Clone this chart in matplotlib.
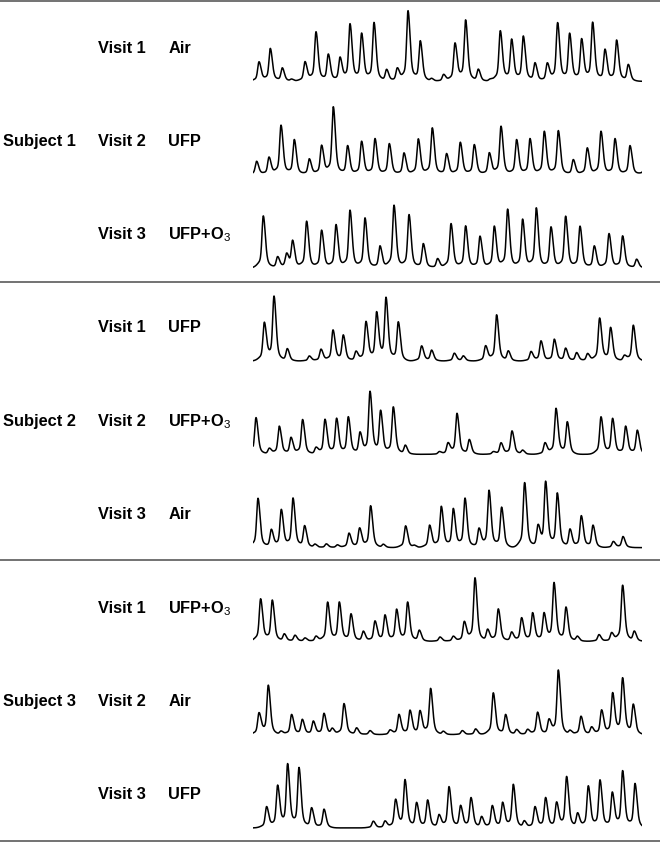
import numpy as np
import matplotlib
matplotlib.use("Agg")
import matplotlib.pyplot as plt

plt.rcParams['font.family'] = ['Liberation Sans', 'DejaVu Sans']
plt.rcParams['mathtext.fontset'] = 'custom'
plt.rcParams['mathtext.rm'] = 'Liberation Sans'
plt.rcParams['mathtext.bf'] = 'Liberation Sans:bold'

# ---------------- data (peak times in trace units 0-389, peak heights in amplitude units) -------------
subjects = ["Subject 1", "Subject 2", "Subject 3"]
visits = ["Visit 1", "Visit 2", "Visit 3"]
conditions = [["Air", "UFP", r"UFP+O$_{\mathrm{3}}$"],
              ["UFP", r"UFP+O$_{\mathrm{3}}$", "Air"],
              [r"UFP+O$_{\mathrm{3}}$", "Air", "UFP"]]

s1v1_t = [5.7, 17, 29, 38.3, 51.7, 62.7, 75, 86.7, 96.7, 108.3, 120.7, 133.3, 144, 154.7, 167, 178.3, 190.3,
          201.7, 212.3, 225, 236.7, 247, 258.3, 270, 281.7, 294, 304.3, 316.3, 328.3, 339.3, 351.7, 363.3, 375]
s1v1_h = [19.3, 32.7, 13.3, 2, 19.3, 49.3, 27, 23.3, 57, 47.7, 58.7, 11.7, 12.7, 70.3, 40.3, 2.7, 6.7,
          37.7, 61, 12, 1.7, 50.3, 41.7, 45, 18.3, 17.7, 58.3, 47.7, 42, 58.7, 31.7, 41, 16.7]

s1v2_t = [3.3, 15.7, 27.7, 41, 56, 68.3, 80, 94.3, 108.3, 121.7, 136, 150.7, 165, 179, 193.3, 207, 221,
          236, 247.7, 263.3, 276.7, 291, 305, 320, 334, 347.7, 361.7, 376.7, 392]
s1v2_h = [13.3, 17.3, 49.3, 35, 15.7, 29, 67.7, 29, 33.3, 36, 31, 21.7, 35.7, 46.7, 21, 32.3, 30,
          21.7, 48.3, 35, 36, 43.3, 44, 15, 26.7, 43.3, 36, 29, 14]

s1v3_t = [10, 24.3, 33.3, 39.3, 53.3, 68.3, 82.7, 96.7, 111.7, 126.7, 140.7, 155.7, 170, 184.3, 197.7,
          212.3, 226.7, 241, 254.3, 269.3, 283, 297.7, 312.3, 326.7, 341, 355.7, 369.3, 383.3]
s1v3_h = [52, 11, 12.7, 26.7, 46.7, 37.7, 43.3, 57.7, 50, 22, 62.7, 53.3, 24.3, 9.3, 44.3,
          42, 31.7, 41.7, 58.7, 48.7, 60, 41, 51.7, 41.7, 22, 34.3, 32, 8.7]

s2v1_t = [11, 20.7, 34, 56, 67.7, 79.7, 90, 102.7, 112.7, 123.3, 132.7, 145, 168.3, 178.3, 201, 210,
          232.3, 243.3, 255, 277.7, 287.7, 301, 312.3, 323.3, 334.3, 346.3, 357.3, 371, 380]
s2v1_h = [37.7, 64.3, 12.3, 5, 11.7, 30.7, 25.7, 9.3, 39, 47.7, 62.7, 39, 15, 10.7, 7.7, 5,
          15, 46, 10, 9.3, 20, 21.7, 12.7, 8.3, 7.3, 42.7, 33.3, 5, 35.7]

s2v2_t = [2.7, 16, 26, 37.7, 49.3, 62.7, 71.7, 83.3, 95, 106.7, 116.7, 127.3, 140, 152, 186, 194.7,
          203.7, 216, 240, 247.7, 258.7, 269.3, 291.7, 302.7, 314, 347.7, 359.3, 372.3, 384]
s2v2_h = [36.7, 5.7, 28, 16.7, 34.7, 6.3, 34.7, 35.7, 37.3, 21.3, 62.3, 43.3, 47.3, 9, 2.5, 10.7,
          40.7, 14.7, 2.3, 11.3, 23.3, 4, 11.3, 45.7, 32.3, 37.3, 35.7, 28, 24]

s2v3_t = [4.7, 18, 28, 39.7, 51.3, 61.7, 73, 84, 95.7, 106.3, 117.3, 130, 152.3, 161, 176.3, 188, 200,
          211.7, 225.7, 235.7, 248.3, 271.3, 284.7, 292.3, 304, 316.7, 328, 339.7, 360, 369.7]
s2v3_h = [49.3, 17.7, 37.7, 49.3, 21.7, 3.3, 3.7, 2.7, 14.3, 19.3, 41.7, 3.3, 21.7, 2, 22.3, 41, 38.7,
          49.3, 18.7, 57, 40.3, 65, 20.3, 65.3, 54.3, 18.3, 31.7, 22.3, 6, 11]

s3v1_t = [7.3, 19, 31, 41.7, 51.7, 62.7, 74.3, 86, 97.7, 110, 121.7, 131.7, 143.3, 154.3, 166, 186.7,
          200, 211, 221.7, 234.3, 245, 258.3, 268.3, 279.3, 290.7, 300.7, 312.7, 324, 345.7, 358.3,
          369.3, 381]
s3v1_h = [42.3, 41, 7.3, 6, 3.3, 5, 39, 39, 27.3, 10, 20, 26, 31.7, 39, 11, 4.3,
          5, 19.3, 63.3, 11.7, 32.3, 9, 23.3, 28.3, 27.7, 58.3, 34, 5, 6.7, 8.3,
          56, 10]

s3v2_t = [5.7, 15, 27.7, 38.3, 49, 60, 70.7, 79, 90.7, 103.3, 116.7, 136.7, 145.7, 156.7, 166.7, 177.3,
          190, 209, 222.3, 240, 252.3, 263.3, 274.3, 284.3, 295.7, 305, 316.7, 327.7, 338.3, 348.3,
          359.3, 369.3, 380]
s3v2_h = [21, 49, 3.3, 20, 15, 13.3, 21, 5.7, 31, 6.7, 4, 4.3, 20, 24, 23.3, 46,
          3.3, 4, 5.7, 41.7, 20, 5, 5, 22.3, 14.3, 64.3, 4, 18.3, 7.3, 24.3,
          41, 56, 30]

s3v3_t = [13.3, 24.3, 34.3, 45.7, 58.3, 70.7, 120, 131.7, 142.3, 151.7, 163.3, 174.3, 185.7, 195.7,
          207.3, 217.7, 228.3, 239, 249.3, 260, 271, 281.7, 292.3, 303.3, 313.3, 324.3, 335, 346.7,
          359, 369.3, 381.7]
s3v3_h = [21, 41.7, 63.3, 60, 20, 18.7, 6.7, 6.7, 27.7, 47.7, 25, 27.7, 12.7, 41,
          22, 30, 11, 22, 25, 43.3, 6.7, 21, 30, 25, 51, 14.3, 41.7, 47.7,
          35, 56.7, 44.3]

traces = [[(s1v1_t, s1v1_h), (s1v2_t, s1v2_h), (s1v3_t, s1v3_h)],
          [(s2v1_t, s2v1_h), (s2v2_t, s2v2_h), (s2v3_t, s2v3_h)],
          [(s3v1_t, s3v1_h), (s3v2_t, s3v2_h), (s3v3_t, s3v3_h)]]

# ---------------- layout -------------
W, H = 660, 842
fig = plt.figure(figsize=(W / 100, H / 100), dpi=100)
bg = fig.add_axes([0, 0, 1, 1])
bg.set_xlim(0, W)
bg.set_ylim(H, 0)
bg.axis('off')

row_step = 93.3
group_tops = [0.7, 281.7, 560.3]
label_first = [48.3, 328.0, 608.3]
baseline_offset = 33.0
trace_left, trace_w = 253.3, 389.0


def signal(t, times, heights):
    y = np.zeros_like(t)
    for tc, h in zip(times, heights):
        d = t - tc
        sig = np.where(d < 0, 1.25, 1.9)
        y += 0.82 * h * np.exp(-0.5 * (d / sig) ** 2)
        y += 0.18 * h * np.exp(-0.5 * (d / 4.5) ** 2)
    return y


t = np.linspace(0, 389, 2400)
fs = 11.8
for sep in group_tops + [840.7]:
    bg.plot([0, W], [sep, sep], color='#5a5a5a', lw=1.2, solid_capstyle='butt')

for g in range(3):
    ys = [label_first[g] + k * row_step for k in range(3)]
    bg.text(3.3, ys[1], subjects[g], fontsize=fs, fontweight='bold', ha='left', va='center')
    for k in range(3):
        bg.text(98.3, ys[k], visits[k], fontsize=fs, fontweight='bold', ha='left', va='center')
        bg.text(168.3, ys[k], conditions[g][k], fontsize=fs, fontweight='bold', ha='left', va='center')
        base = ys[k] + baseline_offset
        ax = fig.add_axes([trace_left / W, (H - (base + 4)) / H, trace_w / W, 80 / H])
        ax.set_xlim(0, 389)
        ax.set_ylim(-4, 76)
        ax.axis('off')
        tt, hh = traces[g][k]
        ax.plot(t, signal(t, tt, hh), color='black', lw=1.1)

fig.savefig("out.png", dpi=100)
